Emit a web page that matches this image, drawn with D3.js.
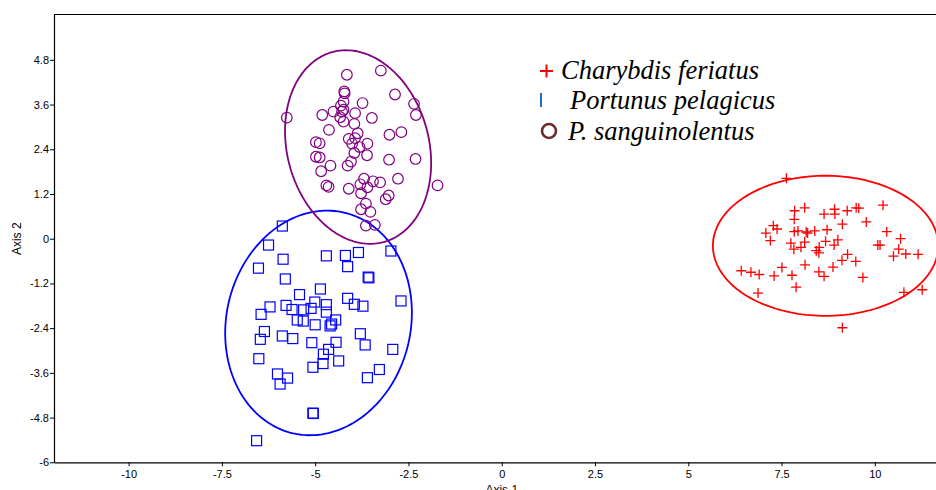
<!DOCTYPE html>
<html>
<head>
<meta charset="utf-8">
<script src="https://cdn.jsdelivr.net/npm/d3@7"></script>
<style>
  html, body { margin: 0; padding: 0; background: #fff; overflow: hidden; }
  svg { display: block; }
  .tick text { font-family: "Liberation Sans", Arial, sans-serif; font-size: 11px; fill: #000; }
  .legend text { font-family: "Liberation Serif", "Times New Roman", serif; font-style: italic; font-size: 26.5px; fill: #000; }
</style>
</head>
<body>
<svg id="chart" width="936" height="490"></svg>
<script>
// Ordination scores (Axis 1, Axis 2) for three portunid crab species
const charybdisX = [7.63,10.22,8.12,7.85,7.84,8.92,8.93,8.64,9.26,9.50,9.57,9.77,9.13,7.28,7.38,7.08,7.20,7.84,7.94,8.16,8.20,8.39,8.72,10.32,10.69,7.75,8.12,8.02,7.83,8.68,9.01,8.91,8.51,8.43,8.50,10.14,10.08,10.64,10.50,10.83,11.16,9.27,9.12,9.49,9.68,8.88,8.13,7.51,7.30,7.78,8.50,8.64,6.42,6.68,6.90,7.89,6.87,10.78,11.27,9.13];
const charybdisY = [1.62,0.90,0.83,0.75,0.52,0.79,0.66,0.66,0.75,0.83,0.82,0.45,0.39,0.35,0.26,0.15,-0.05,0.19,0.21,0.18,0.15,0.21,0.24,0.19,0.00,-0.12,-0.09,-0.23,-0.28,-0.07,-0.03,-0.17,-0.23,-0.32,-0.38,-0.17,-0.17,-0.28,-0.47,-0.41,-0.42,-0.42,-0.58,-0.61,-1.04,-0.76,-0.70,-0.77,-1.00,-0.98,-0.89,-1.01,-0.86,-0.90,-0.96,-1.30,-1.46,-1.44,-1.37,-2.39];

const portunusX = [-5.88,-6.25,-5.86,-6.52,-4.70,-4.19,-3.84,-4.13,-2.97,-3.58,-3.56,-5.80,-4.86,-5.42,-4.13,-3.95,-3.72,-2.70,-6.21,-6.45,-5.78,-5.62,-5.31,-5.11,-5.01,-4.70,-4.70,-5.48,-5.32,-5.00,-4.60,-4.56,-4.45,-6.36,-6.47,-5.88,-5.60,-5.09,-4.44,-3.79,-3.66,-4.64,-4.78,-2.92,-6.51,-4.79,-5.06,-4.37,-3.28,-3.60,-6.01,-5.74,-5.94,-5.06,-5.05,-6.57];
const portunusY = [0.34,-0.17,-0.55,-0.79,-0.46,-0.45,-0.37,-0.75,-0.33,-1.03,-1.05,-1.08,-1.35,-1.50,-1.60,-1.76,-1.81,-1.67,-1.83,-2.03,-1.79,-1.90,-1.91,-1.87,-1.70,-1.77,-1.97,-2.18,-2.21,-2.31,-2.34,-2.29,-2.18,-2.49,-2.70,-2.61,-2.68,-2.79,-2.78,-2.55,-2.85,-2.97,-3.10,-2.97,-3.22,-3.35,-3.45,-3.28,-3.51,-3.73,-3.63,-3.74,-3.90,-4.68,-4.69,-5.42];

const sanguinoX = [-4.15,-3.24,-4.22,-4.21,-2.86,-2.35,-2.30,-5.76,-3.73,-4.24,-4.31,-4.24,-4.28,-4.51,-4.81,-3.93,-3.48,-4.33,-4.24,-3.95,-4.63,-3.86,-3.01,-2.69,-4.98,-4.88,-4.10,-3.93,-4.01,-3.60,-3.81,-3.95,-3.61,-4.98,-4.88,-3.02,-2.31,-4.04,-4.13,-4.59,-4.84,-1.72,-2.78,-3.69,-3.45,-3.26,-3.79,-3.60,-4.10,-4.70,-4.64,-3.77,-3.03,-3.11,-3.64,-3.77,-3.52,-3.64,-3.40];
const sanguinoY = [4.40,4.51,3.95,3.90,3.87,3.62,3.32,3.25,3.64,3.68,3.57,3.46,3.41,3.41,3.32,3.37,3.24,3.26,3.14,3.08,2.92,2.83,2.79,2.86,2.59,2.56,2.68,2.70,2.55,2.55,2.46,2.30,2.24,2.20,2.18,2.12,2.14,2.07,1.96,1.96,1.81,1.43,1.61,1.61,1.54,1.51,1.46,1.38,1.34,1.43,1.39,1.22,1.16,1.06,0.94,0.79,0.72,0.35,0.37];

// Group ellipses: centre, semi-axes and orientation (degrees), in axis units
const ellipseNames = ["Charybdis feriatus", "Portunus pelagicus", "P. sanguinolentus"];
const ellipseCx = [8.68, -4.91, -3.85];
const ellipseCy = [-0.19, -2.26, 2.46];
const ellipseA = [3.02, 3.04, 2.64];
const ellipseB = [1.88, 2.47, 1.90];
const ellipseAngle = [0, 77, 105];

const xTicks = [-10, -7.5, -5, -2.5, 0, 2.5, 5, 7.5, 10];
const yTicks = [-6, -4.8, -3.6, -2.4, -1.2, 0, 1.2, 2.4, 3.6, 4.8];
const legendLabels = ["Charybdis feriatus", "Portunus pelagicus", "P. sanguinolentus"];

const svg = d3.select("#chart");
const plotLeft = 54, plotTop = 14, plotBottom = 462.3;

const x = d3.scaleLinear().domain([-12, 12]).range([plotLeft, plotLeft + 24 * 37.31]);
const y = d3.scaleLinear().domain([-6, 6.03]).range([plotBottom, plotTop]);

// frame: top edge
svg.append("line")
  .attr("x1", plotLeft).attr("x2", 936)
  .attr("y1", plotTop + 0.5).attr("y2", plotTop + 0.5)
  .attr("stroke", "#000").attr("stroke-width", 1);

const fmt = d => (d === 0 ? "0" : String(d));

const gx = svg.append("g")
  .attr("transform", `translate(0,${plotBottom})`)
  .call(d3.axisBottom(x).tickValues(xTicks).tickFormat(fmt).tickSize(4).tickSizeOuter(0).tickPadding(4));
const gy = svg.append("g")
  .attr("transform", `translate(${plotLeft},0)`)
  .call(d3.axisLeft(y).tickValues(yTicks).tickFormat(fmt).tickSize(4).tickSizeOuter(0).tickPadding(1));
[gx, gy].forEach(g => {
  g.select(".domain").attr("stroke", "#000").attr("stroke-width", 1.2);
  g.selectAll(".tick line").attr("stroke", "#000");
});

svg.append("text")
  .attr("x", x(0)).attr("y", 494)
  .attr("text-anchor", "middle")
  .style("font-family", "Liberation Sans, Arial, sans-serif").style("font-size", "12px")
  .text("Axis 1");
svg.append("text")
  .attr("transform", `translate(21,${y(0)}) rotate(-90)`)
  .attr("text-anchor", "middle")
  .style("font-family", "Liberation Sans, Arial, sans-serif").style("font-size", "12px")
  .text("Axis 2");

// ellipses traced parametrically in data space
const ellipseColors = ["#ff0000", "#0000ff", "#800080"];
const line = d3.line().x(p => x(p[0])).y(p => y(p[1]));
ellipseNames.forEach((name, i) => {
  const th = ellipseAngle[i] * Math.PI / 180;
  const pts = d3.range(0, 361, 2).map(t => {
    const r = t * Math.PI / 180;
    const u = ellipseA[i] * Math.cos(r), v = ellipseB[i] * Math.sin(r);
    return [ellipseCx[i] + u * Math.cos(th) - v * Math.sin(th),
            ellipseCy[i] + u * Math.sin(th) + v * Math.cos(th)];
  });
  svg.append("path").attr("d", line(pts))
    .attr("fill", "none").attr("stroke", ellipseColors[i]).attr("stroke-width", 1.8);
});

// Charybdis: crosses
svg.append("g").selectAll("path")
  .data(d3.zip(charybdisX, charybdisY))
  .join("path")
  .attr("d", d => { const h = 5, cx = x(d[0]), cy = y(d[1]); return `M${cx - h},${cy}H${cx + h}M${cx},${cy - h}V${cy + h}`; })
  .attr("stroke", "#ff0000").attr("stroke-width", 1.3).attr("fill", "none");

// Portunus: open squares
svg.append("g").selectAll("rect")
  .data(d3.zip(portunusX, portunusY))
  .join("rect")
  .attr("x", d => x(d[0]) - 5).attr("y", d => y(d[1]) - 5)
  .attr("width", 10).attr("height", 10)
  .attr("fill", "none").attr("stroke", "#0000ff").attr("stroke-width", 1.2);

// P. sanguinolentus: open circles
svg.append("g").selectAll("circle")
  .data(d3.zip(sanguinoX, sanguinoY))
  .join("circle")
  .attr("cx", d => x(d[0])).attr("cy", d => y(d[1])).attr("r", 5.3)
  .attr("fill", "none").attr("stroke", "#800080").attr("stroke-width", 1.2);

// legend
const lg = svg.append("g").attr("class", "legend");
lg.append("path").attr("d", "M540,71H553M546.5,64.5V77.5").attr("stroke", "#ff0000").attr("stroke-width", 2);
lg.append("text").attr("x", 561).attr("y", 79).text(legendLabels[0]);
lg.append("line").attr("x1", 541).attr("x2", 541).attr("y1", 93).attr("y2", 107).attr("stroke", "#1f6fc5").attr("stroke-width", 2);
lg.append("text").attr("x", 570).attr("y", 109).text(legendLabels[1]);
lg.append("circle").attr("cx", 549).attr("cy", 131).attr("r", 7).attr("fill", "none").attr("stroke", "#6b2a2a").attr("stroke-width", 2.6);
lg.append("text").attr("x", 568).attr("y", 140).text(legendLabels[2]);
</script>
</body>
</html>
